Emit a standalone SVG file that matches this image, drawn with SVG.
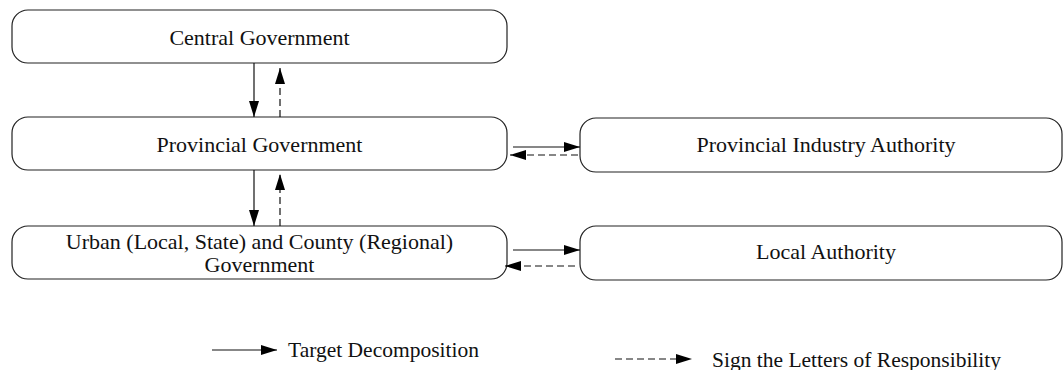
<svg xmlns="http://www.w3.org/2000/svg" width="1064" height="370" viewBox="0 0 1064 370">
<defs>
<style>
.box{fill:#fff;stroke:#222;stroke-width:1.2}
.t{font-family:"Liberation Serif","Times New Roman",serif;font-size:22px;fill:#111;text-anchor:middle}
.lt{font-family:"Liberation Serif","Times New Roman",serif;font-size:21.5px;fill:#111}
.s{stroke:#111;stroke-width:1.2;fill:none}
.d{stroke:#111;stroke-width:1.2;fill:none;stroke-dasharray:7,4}
</style>
<marker id="ah" viewBox="0 0 16 10" refX="16" refY="5" markerWidth="16" markerHeight="10" markerUnits="userSpaceOnUse" orient="auto">
<path d="M0,0 L16,5 L0,10 Z" fill="#000"/>
</marker>
</defs>
<rect width="1064" height="370" fill="#fff"/>
<g id="central"><rect class="box" x="12" y="10" width="495" height="53" rx="16"/><text class="t" x="259.5" y="45">Central Government</text></g>
<g id="provincial"><rect class="box" x="12" y="117" width="495" height="53" rx="16"/><text class="t" x="259.5" y="152">Provincial Government</text></g>
<g id="urban"><rect class="box" x="12" y="226" width="495" height="53" rx="16"/><text class="t" x="259.5" y="249">Urban (Local, State) and County (Regional)</text><text class="t" x="259.5" y="272">Government</text></g>
<g id="pia"><rect class="box" x="580" y="118" width="482" height="54" rx="16"/><text class="t" x="826" y="152">Provincial Industry Authority</text></g>
<g id="local"><rect class="box" x="580" y="226" width="482" height="54" rx="16"/><text class="t" x="826" y="259">Local Authority</text></g>
<g id="connectors">
<line class="s" x1="254" y1="63" x2="254" y2="117" marker-end="url(#ah)"/>
<line class="d" x1="280" y1="117" x2="280" y2="68" marker-end="url(#ah)"/>
<line class="s" x1="254" y1="170" x2="254" y2="226" marker-end="url(#ah)"/>
<line class="d" x1="280" y1="226" x2="280" y2="174" marker-end="url(#ah)"/>
<line class="s" x1="513" y1="147" x2="580" y2="147" marker-end="url(#ah)"/>
<line class="d" x1="578" y1="155" x2="510" y2="155" marker-end="url(#ah)"/>
<line class="s" x1="513" y1="250" x2="580" y2="250" marker-end="url(#ah)"/>
<line class="d" x1="575" y1="266" x2="505" y2="266" marker-end="url(#ah)"/>
</g>
<g id="legend">
<line class="s" x1="212" y1="350" x2="277" y2="350" marker-end="url(#ah)"/>
<text class="lt" x="288" y="357">Target Decomposition</text>
<line class="d" x1="615" y1="359" x2="692" y2="359" marker-end="url(#ah)"/>
<text class="lt" x="712" y="367">Sign the Letters of Responsibility</text>
</g>
</svg>
